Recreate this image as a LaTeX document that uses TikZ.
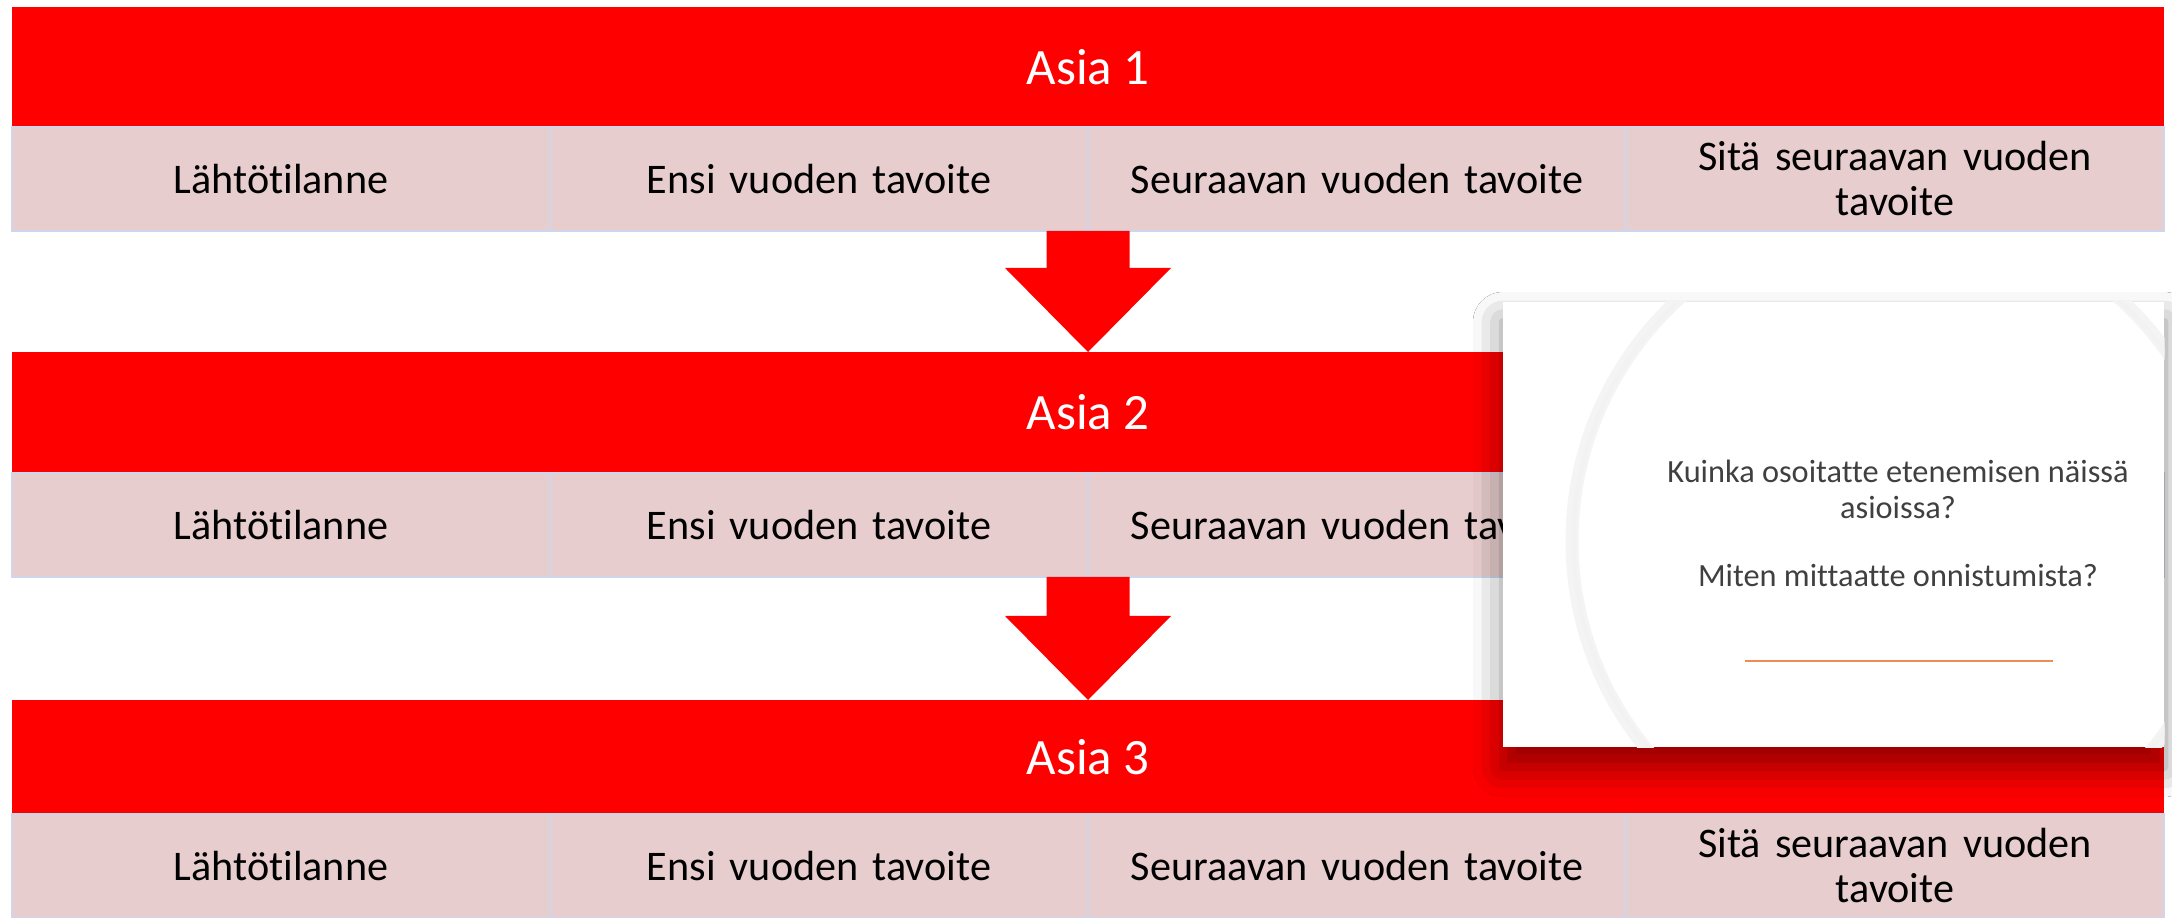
\documentclass[tikz,border=0pt]{standalone}
\usepackage{fontspec}
\setmainfont{Carlito}[Ligatures=NoCommon]
\usetikzlibrary{shadows.blur,calc}
\definecolor{asiared}{RGB}{255,0,0}
\definecolor{cellpink}{RGB}{232,205,206}
\definecolor{cellline}{RGB}{207,213,234}
\definecolor{ringgrey}{RGB}{244,244,244}
\definecolor{lineorange}{RGB}{240,140,80}
% block arrow from the bottom of one row to the top of the next
\newcommand{\blockarrow}[2]{%
  \fill[asiared] ($(#1)+(-41.5,0)$) -- ($(#1)+(41.5,0)$) -- ($(#2)+(41.5,-84)$) -- ($(#2)+(83,-84)$)
    -- (#2) -- ($(#2)+(-83,-84)$) -- ($(#2)+(-41.5,-84)$) -- cycle;}
\begin{document}
\begin{tikzpicture}[x=0.1mm,y=-0.1mm,
    head/.style={fill=asiared,minimum width=215.2mm,minimum height=12mm,inner sep=0pt,outer sep=0pt,text=white,font=\fontsize{14.5}{17}\selectfont},
    cell/.style={draw=cellline,line width=0.15mm,fill=cellpink,minimum width=53.8mm,minimum height=10.4mm,inner sep=0pt,outer sep=0pt,text width=48mm,align=center,font=\fontsize{12}{12.8}\selectfont},
    card/.style={fill=white,minimum width=66.1mm,minimum height=44.5mm,inner sep=0pt,blur shadow={shadow xshift=0mm,shadow yshift=-2mm,shadow blur radius=3mm,shadow opacity=45}},
    question/.style={align=center,text=black!75,font=\fontsize{9.2}{10.2}\selectfont}]
  \useasboundingbox (0,0) rectangle (2172,918);
  \fill[white] (0,0) rectangle (2172,918);

  % Asia 1
  \node[head] (asia1) at (1088,67) {Asia 1};
  \node[cell] (lahto1) at (281,179) {Lähtötilanne};
  \node[cell] (ensi1) at (819,179) {Ensi vuoden tavoite};
  \node[cell] (seur1) at (1357,179) {Seuraavan vuoden tavoite};
  \node[cell] (sita1) at (1895,179) {Sitä seuraavan vuoden\\tavoite};

  % Asia 2
  \node[head] (asia2) at (1088,412) {Asia 2};
  \node[cell] (lahto2) at (281,525) {Lähtötilanne};
  \node[cell] (ensi2) at (819,525) {Ensi vuoden tavoite};
  \node[cell] (seur2) at (1357,525) {Seuraavan vuoden tavoite};
  \node[cell] (sita2) at (1895,525) {};

  % Asia 3
  \node[head,minimum height=11.4mm] (asia3) at (1088,757) {Asia 3};
  \node[cell] (lahto3) at (281,866) {Lähtötilanne};
  \node[cell] (ensi3) at (819,866) {Ensi vuoden tavoite};
  \node[cell] (seur3) at (1357,866) {Seuraavan vuoden tavoite};
  \node[cell] (sita3) at (1895,866) {Sitä seuraavan vuoden\\tavoite};

  % arrows between the rows
  \coordinate (from1) at (ensi1.south east);
  \coordinate (to1) at (ensi1.south east |- asia2.north);
  \coordinate (from2) at (ensi2.south east);
  \coordinate (to2) at (ensi2.south east |- asia3.north);
  \blockarrow{from1}{to1}
  \blockarrow{from2}{to2}

  % card with the questions
  \node[card] (card) at (1833.5,524.5) {};
  \begin{scope}
    \clip (card.south west) rectangle (card.north east);
    \draw[ringgrey,line width=1.3mm] (1899.5,541) circle (32.75mm);
    \draw[black!5,line width=0.4mm] (1899.5,541) circle (32.6mm);
  \end{scope}
  \node[question] (q1) at (1898,489) {Kuinka osoitatte etenemisen näissä\\asioissa?};
  \node[question] (q2) at (1898,575) {Miten mittaatte onnistumista?};
  \draw[lineorange,line width=0.2mm] (1745,661) -- (2053,661);
\end{tikzpicture}
\end{document}
